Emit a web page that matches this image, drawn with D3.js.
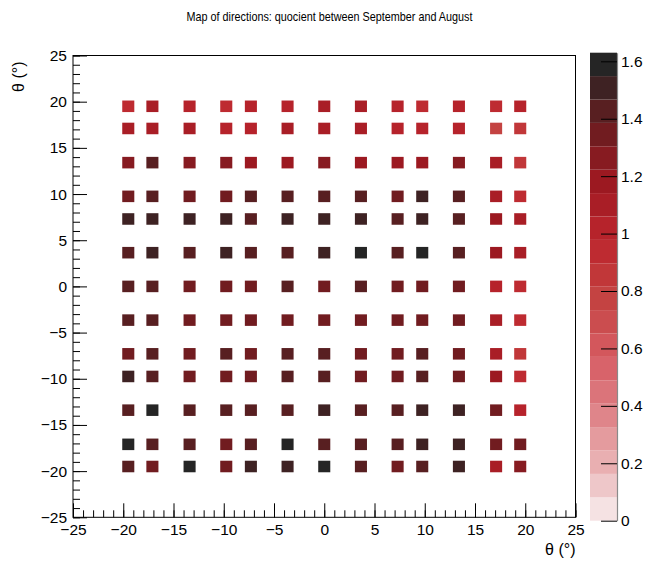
<!DOCTYPE html>
<html>
<head>
<meta charset="utf-8">
<script src="https://cdn.jsdelivr.net/npm/d3@7"></script>
<style>
  html, body { margin: 0; padding: 0; background: #ffffff; }
  svg { display: block; font-family: "Liberation Sans", Arial, Helvetica, sans-serif; }
</style>
</head>
<body>
<svg id="chart" width="659" height="563"></svg>
<script>
// ---------------- data ----------------
const titleText = "Map of directions: quocient between September and August";
const xTitle = "θ (°)";
const yTitle = "θ (°)";

// bin centres (degrees)
const xCenters = [-19.5, -17.1, -13.4, -9.75, -7.3, -3.65, 0, 3.65, 7.3, 9.75, 13.4, 17.1, 19.5];
const yCenters = [19.5, 17.1, 13.4, 9.75, 7.3, 3.65, 0, -3.65, -7.3, -9.75, -13.4, -17.1, -19.5];
const binWidth = 1.2;
const binHeight = 1.25;

// quotient values, one row per yCenters entry, one column per xCenters entry
const row_p195 = [0.94, 1.10, 1.02, 0.93, 1.03, 1.01, 1.11, 1.09, 1.02, 0.95, 1.03, 0.94, 1.01];
const row_p171 = [1.09, 1.11, 1.10, 1.02, 0.99, 1.09, 1.12, 1.10, 1.03, 1.01, 1.02, 0.77, 0.86];
const row_p134 = [1.26, 1.43, 1.27, 1.25, 1.18, 1.19, 1.26, 1.17, 1.18, 1.19, 1.27, 1.10, 0.85];
const row_p975 = [1.35, 1.42, 1.34, 1.36, 1.43, 1.42, 1.44, 1.43, 1.35, 1.51, 1.42, 1.11, 0.94];
const row_p73  = [1.50, 1.51, 1.52, 1.49, 1.43, 1.51, 1.50, 1.52, 1.42, 1.50, 1.43, 1.18, 1.09];
const row_p365 = [1.43, 1.50, 1.42, 1.51, 1.44, 1.43, 1.51, 1.60, 1.42, 1.63, 1.44, 1.19, 1.10];
const row_0    = [1.42, 1.43, 1.35, 1.34, 1.36, 1.43, 1.35, 1.42, 1.34, 1.36, 1.35, 1.02, 0.94];
const row_m365 = [1.43, 1.42, 1.35, 1.36, 1.34, 1.35, 1.36, 1.35, 1.34, 1.35, 1.36, 1.10, 0.93];
const row_m73  = [1.35, 1.43, 1.34, 1.42, 1.36, 1.43, 1.44, 1.35, 1.34, 1.42, 1.36, 1.10, 0.86];
const row_m975 = [1.51, 1.42, 1.35, 1.34, 1.36, 1.43, 1.42, 1.35, 1.36, 1.43, 1.34, 1.19, 0.94];
const row_m134 = [1.43, 1.59, 1.42, 1.44, 1.43, 1.42, 1.50, 1.43, 1.42, 1.51, 1.50, 1.34, 1.02];
const row_m171 = [1.60, 1.43, 1.42, 1.35, 1.43, 1.59, 1.42, 1.43, 1.44, 1.51, 1.50, 1.35, 1.34];
const row_m195 = [1.42, 1.35, 1.59, 1.34, 1.50, 1.51, 1.60, 1.43, 1.35, 1.42, 1.51, 1.10, 1.26];
const values = [row_p195, row_p171, row_p134, row_p975, row_p73, row_p365, row_0,
                row_m365, row_m73, row_m975, row_m134, row_m171, row_m195];

// axis ticks
const axisMajorTicks = [-25, -20, -15, -10, -5, 0, 5, 10, 15, 20, 25];
const axisMinorTicks = d3.range(-25, 26, 1);
const cbTicks = [0, 0.2, 0.4, 0.6, 0.8, 1, 1.2, 1.4, 1.6];
const nContours = 20;

// palette stops (inverted "cherry")
const palStops = [0, 0.125, 0.25, 0.375, 0.5, 0.625, 0.75, 0.875, 1];
const palR = [37, 102, 157, 188, 196, 214, 223, 235, 251];
const palG = [37, 29, 25, 37, 67, 91, 132, 185, 251];
const palB = [37, 32, 33, 45, 66, 98, 137, 187, 251];

// ---------------- layout ----------------
const W = 659, H = 563;
const frame = { left: 73, right: 575.5, top: 55.5, bottom: 517.3 };
const cb = { left: 590, right: 617, top: 52.7, bottom: 520.7 };

const svg = d3.select("#chart");
svg.append("rect").attr("width", W).attr("height", H).attr("fill", "#ffffff");

const x = d3.scaleLinear().domain([-25, 25]).range([frame.left, frame.right]);
const y = d3.scaleLinear().domain([-25, 25]).range([frame.bottom, frame.top]);

// palette: 255 colours, inverted
const nCol = 255;
const sR = d3.scaleLinear().domain(palStops).range(palR);
const sG = d3.scaleLinear().domain(palStops).range(palG);
const sB = d3.scaleLinear().domain(palStops).range(palB);
const cherry = t => d3.rgb(sR(t), sG(t), sB(t)).formatHex();
const palette = d3.range(nCol).map(j => cherry((nCol - 1 - j) / (nCol - 1)));
const bandColor = k => palette[Math.floor((k + 0.99) * nCol / nContours)];

const zMin = 0;
const zMax = d3.max(values.flat());
const dz = (zMax - zMin) / nContours;
const colorOf = v => bandColor(Math.min(nContours - 1, Math.max(0, Math.floor((v - zMin) / dz))));

// ---------------- cells ----------------
const cells = [];
yCenters.forEach((yc, i) => xCenters.forEach((xc, j) => {
  const v = values[i][j];
  if (v > 0) cells.push({ xc, yc, v });
}));

svg.append("g").selectAll("rect").data(cells).join("rect")
  .attr("x", d => x(d.xc - binWidth / 2))
  .attr("y", d => y(d.yc + binHeight / 2))
  .attr("width", d => x(d.xc + binWidth / 2) - x(d.xc - binWidth / 2))
  .attr("height", d => y(d.yc - binHeight / 2) - y(d.yc + binHeight / 2))
  .attr("fill", d => colorOf(d.v));

// ---------------- axes ----------------
const fmt = v => (v < 0 ? "\u2212" + Math.abs(v) : String(v));

// x minor
svg.append("g").attr("transform", `translate(0,${frame.bottom})`)
  .call(d3.axisBottom(x).tickValues(axisMinorTicks).tickSizeInner(-7).tickSizeOuter(0).tickFormat(""))
  .call(g => g.select(".domain").remove());
// x major
const gx = svg.append("g").attr("transform", `translate(0,${frame.bottom})`)
  .call(d3.axisBottom(x).tickValues(axisMajorTicks).tickSizeInner(-14).tickSizeOuter(0).tickPadding(7).tickFormat(fmt))
  .call(g => g.select(".domain").remove());
gx.selectAll("text").attr("font-size", 15.5).attr("fill", "#000").attr("font-family", "Liberation Sans, Arial, sans-serif");

// y minor
svg.append("g").attr("transform", `translate(${frame.left},0)`)
  .call(d3.axisLeft(y).tickValues(axisMinorTicks).tickSizeInner(-7).tickSizeOuter(0).tickFormat(""))
  .call(g => g.select(".domain").remove());
// y major
const gy = svg.append("g").attr("transform", `translate(${frame.left},0)`)
  .call(d3.axisLeft(y).tickValues(axisMajorTicks).tickSizeInner(-14).tickSizeOuter(0).tickPadding(6).tickFormat(fmt))
  .call(g => g.select(".domain").remove());
gy.selectAll("text").attr("font-size", 15.5).attr("fill", "#000").attr("font-family", "Liberation Sans, Arial, sans-serif");

svg.selectAll(".tick line").attr("stroke", "#000").attr("stroke-width", 1);

// frame
svg.append("rect")
  .attr("x", frame.left).attr("y", frame.top)
  .attr("width", frame.right - frame.left).attr("height", frame.bottom - frame.top)
  .attr("fill", "none").attr("stroke", "#000").attr("stroke-width", 1);

// ---------------- colour bar ----------------
const cbY = d3.scaleLinear().domain([zMin, zMax]).range([cb.bottom, cb.top]);
svg.append("g").selectAll("rect").data(d3.range(nContours)).join("rect")
  .attr("x", cb.left)
  .attr("y", k => cbY(zMin + (k + 1) * dz))
  .attr("width", cb.right - cb.left)
  .attr("height", k => cbY(zMin + k * dz) - cbY(zMin + (k + 1) * dz))
  .attr("fill", k => bandColor(k));

const gcb = svg.append("g").attr("transform", `translate(${cb.right},0)`)
  .call(d3.axisRight(cbY).tickValues(cbTicks).tickSizeInner(-16).tickSizeOuter(0).tickPadding(4).tickFormat(d3.format("~g")));
gcb.select(".domain").attr("stroke", "#8a8a8a").attr("stroke-width", 1.2);
gcb.selectAll(".tick line").attr("stroke", "#000").attr("stroke-width", 1);
gcb.selectAll("text").attr("font-size", 15.5).attr("fill", "#000").attr("font-family", "Liberation Sans, Arial, sans-serif");

// ---------------- titles ----------------
svg.append("text")
  .attr("x", 329.5).attr("y", 21)
  .attr("text-anchor", "middle")
  .attr("font-size", 13)
  .attr("textLength", 286)
  .attr("lengthAdjust", "spacingAndGlyphs")
  .attr("fill", "#000")
  .text(titleText);

svg.append("text")
  .attr("x", frame.right).attr("y", 555)
  .attr("text-anchor", "end")
  .attr("font-size", 16)
  .attr("fill", "#000")
  .text(xTitle);

svg.append("text")
  .attr("transform", `translate(24,${frame.top + 6}) rotate(-90)`)
  .attr("text-anchor", "end")
  .attr("font-size", 16)
  .attr("fill", "#000")
  .text(yTitle);
</script>
</body>
</html>
